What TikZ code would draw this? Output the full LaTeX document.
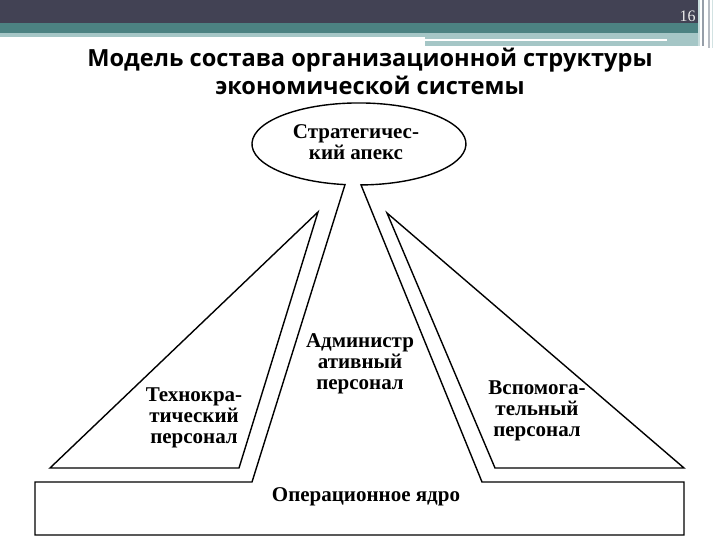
\documentclass[tikz,border=0pt]{standalone}
\usepackage{fontspec}
\setmainfont{Liberation Serif}
\newfontfamily\titlefont{Open Sans}
\newfontfamily\numfont{Liberation Serif}
\definecolor{hdark}{RGB}{66,66,84}
\definecolor{hteal}{RGB}{76,130,130}
\definecolor{hlight}{RGB}{165,198,198}
\definecolor{hgray}{RGB}{150,158,168}
\tikzset{
  outline/.style={draw=black, line width=1.4pt, line join=miter},
  bodytext/.style={font=\bfseries\fontsize{21}{21}\selectfont, align=center, inner sep=0pt},
  titletext/.style={font=\titlefont\bfseries\fontsize{23.6}{26}\selectfont, inner sep=0pt, anchor=base},
}
\begin{document}
\begin{tikzpicture}[x=1pt,y=-1pt]
\useasboundingbox (0,0) rectangle (720,540);
\fill[white] (0,0) rectangle (720,540);
% header
\fill[hdark] (0,0) rectangle (698,23);
\fill[hteal] (0,23) rectangle (698,33);
\fill[hlight] (0,33) rectangle (425,37);
\fill[hlight] (425,33) rectangle (698,46);
\fill[white] (425,39) rectangle (667,41);
\fill[hlight!60] (698,0) rectangle (700,46);
\fill[hgray] (702,0) rectangle (704,46);
\fill[hgray!70] (708,0) rectangle (710,48);
\fill[hlight!50] (712,0) rectangle (713,48);
\node[font=\numfont\fontsize{16}{18}\selectfont, text=white!92!black, inner sep=0pt, anchor=base] (num) at (687.5,22) {16};
% title
\node[titletext] (t1) at (370,66.7) {Модель состава организационной структуры};
\node[titletext] (t2) at (370,95) {экономической системы};
% main outline
\draw[outline] (345,184.6) arc[start angle=97.5, end angle=448.9, x radius=107, y radius=41]
  -- (482,482) -- (684,482) -- (684,535) -- (35,535) -- (35,482) -- (252,482) -- cycle;
% triangles
\draw[outline] (318,212) -- (50,468) -- (239,468) -- cycle;
\draw[outline] (387,213) -- (495,468) -- (684,468) -- cycle;
% texts
\node[bodytext] (apex) at (356,142) {Стратегичес-\\кий апекс};
\node[bodytext] (adm) at (360,364) {Администр\\ативный\\персонал};
\node[bodytext] (tech) at (194,418) {Технокра-\\тический\\персонал};
\node[bodytext] (aux) at (537,411) {Вспомога-\\тельный\\персонал};
\node[bodytext] (core) at (366,497) {Операционное ядро};
\end{tikzpicture}
\end{document}
